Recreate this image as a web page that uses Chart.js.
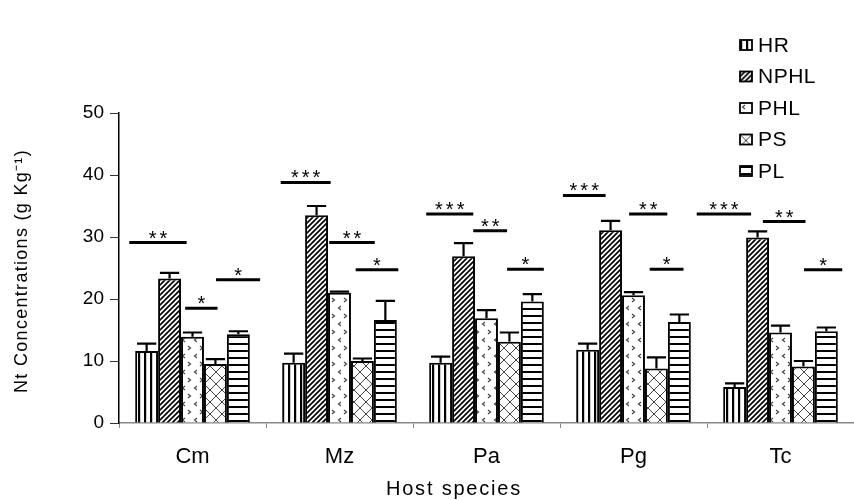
<!DOCTYPE html>
<html><head><meta charset="utf-8">
<script src="https://cdn.jsdelivr.net/npm/chart.js@4.4.1/dist/chart.umd.min.js"></script>
<style>html,body{margin:0;padding:0;background:#fff;}#wrap{width:854px;height:500px;}</style>
</head><body><div id="wrap"><canvas id="c" width="854" height="500"></canvas></div>
<script>
// ---- data ----
const categories = ['Cm', 'Mz', 'Pa', 'Pg', 'Tc'];
const seriesNames = ['HR', 'NPHL', 'PHL', 'PS', 'PL'];
const HR   = [11.6, 9.7, 9.7, 11.8, 5.8];
const NPHL = [23.3, 33.5, 26.9, 31.1, 29.9];
const PHL  = [13.9, 21.0, 16.9, 20.6, 14.6];
const PS   = [9.5, 10.0, 13.1, 8.8, 9.1];
const PL   = [14.3, 16.6, 19.6, 16.3, 14.8];
const HR_err   = [1.2, 1.5, 1.0, 1.0, 0.6];
const NPHL_err = [0.9, 1.5, 2.1, 1.5, 1.0];
const PHL_err  = [0.7, 0.2, 1.3, 0.5, 1.1];
const PS_err   = [0.8, 0.4, 1.5, 1.8, 0.9];
const PL_err   = [0.5, 3.1, 1.2, 1.2, 0.6];
const yTicks = [0, 10, 20, 30, 40, 50];
// significance brackets (x in category-index units, y in data units)
const sigLabels = ['**', '*', '*', '***', '**', '*', '***', '**', '*', '***', '**', '*', '***', '**', '*'];
const sigY    = [29.1, 18.5, 23.1, 38.8, 29.1, 24.7, 33.7, 31.0, 24.8, 36.7, 33.7, 24.8, 33.7, 32.5, 24.7];
const sigFrom = [-0.43, -0.05, 0.16, 0.60, 0.93, 1.11, 1.59, 1.91, 2.14, 2.52, 2.97, 3.11, 3.43, 3.88, 4.16];
const sigTo   = [-0.04, 0.17, 0.46, 0.94, 1.24, 1.40, 1.91, 2.14, 2.39, 2.81, 3.23, 3.34, 3.80, 4.17, 4.42];
const yTitle = 'Nt Concentrations (g Kg⁻¹)';
const xTitle = 'Host species';

// ---- patterns ----
function makePattern(kind) {
  const c = document.createElement('canvas');
  const g = c.getContext('2d');
  let w = 6, h = 6;
  if (kind === 'vert') { w = 6; h = 6; }
  if (kind === 'diag') { w = 5; h = 5; }
  if (kind === 'chev') { w = 12; h = 16; }
  if (kind === 'cross') { w = 12; h = 12; }
  if (kind === 'horiz') { w = 6; h = 7; }
  c.width = w; c.height = h;
  g.fillStyle = '#fff'; g.fillRect(0, 0, w, h);
  g.strokeStyle = '#000'; g.fillStyle = '#000';
  if (kind === 'vert') { g.fillRect(0, 0, 2.2, h); }
  if (kind === 'diag') {
    g.lineWidth = 1.7;
    g.beginPath();
    g.moveTo(-1, h + 1); g.lineTo(w + 1, -1);
    g.moveTo(-1, 1); g.lineTo(1, -1);
    g.moveTo(w - 1, h + 1); g.lineTo(w + 1, h - 1);
    g.stroke();
  }
  if (kind === 'chev') {
    g.strokeStyle = '#444'; g.lineWidth = 1.2;
    g.beginPath();
    g.moveTo(5, 2); g.lineTo(2.5, 4); g.lineTo(5, 6);
    g.moveTo(8, 10); g.lineTo(10.5, 12); g.lineTo(8, 14);
    g.stroke();
  }
  if (kind === 'cross') {
    g.strokeStyle = '#444'; g.lineWidth = 1;
    g.beginPath();
    g.moveTo(0, 0); g.lineTo(w, h);
    g.moveTo(w, 0); g.lineTo(0, h);
    g.stroke();
  }
  if (kind === 'horiz') { g.fillRect(0, 0, w, 2); }
  return g.createPattern(c, 'repeat');
}
const patterns = [makePattern('vert'), makePattern('diag'), makePattern('chev'), makePattern('cross'), makePattern('horiz')];
const values = [HR, NPHL, PHL, PS, PL];
const errs = [HR_err, NPHL_err, PHL_err, PS_err, PL_err];

const datasets = seriesNames.map((n, i) => ({
  label: n, data: values[i], err: errs[i],
  backgroundColor: patterns[i], borderColor: '#000', borderWidth: 2,
  categoryPercentage: 0.78, barPercentage: 1.0
}));

const FONT = "'Liberation Sans', Arial, sans-serif";

const extras = {
  id: 'extras',
  afterDatasetsDraw(chart) {
    const ctx = chart.ctx, y = chart.scales.y, x = chart.scales.x;
    ctx.save();
    // error bars
    ctx.strokeStyle = '#000'; ctx.lineWidth = 2.2;
    chart.data.datasets.forEach((ds, di) => {
      const meta = chart.getDatasetMeta(di);
      meta.data.forEach((bar, i) => {
        const top = y.getPixelForValue(ds.data[i] + ds.err[i]);
        const cap = bar.width * 0.42;
        ctx.beginPath();
        ctx.moveTo(bar.x, bar.y); ctx.lineTo(bar.x, top);
        ctx.moveTo(bar.x - cap, top); ctx.lineTo(bar.x + cap, top);
        ctx.stroke();
      });
    });
    // significance lines
    ctx.lineWidth = 3;
    ctx.fillStyle = '#000';
    ctx.font = '20px ' + FONT;
    ctx.textAlign = 'center'; ctx.textBaseline = 'alphabetic';
    sigLabels.forEach((lab, i) => {
      const x1 = x.getPixelForValue(sigFrom[i]), x2 = x.getPixelForValue(sigTo[i]);
      const yy = y.getPixelForValue(sigY[i]);
      ctx.beginPath(); ctx.moveTo(x1, yy); ctx.lineTo(x2, yy); ctx.stroke();
      ctx.letterSpacing = '3px';
      ctx.fillText(lab, (x1 + x2) / 2 + 1.5, yy + 2);
      ctx.letterSpacing = '0px';
    });
    ctx.restore();
  },
  afterDraw(chart) {
    const ctx = chart.ctx;
    ctx.save();
    // legend
    ctx.font = '21px ' + FONT;
    ctx.textAlign = 'left'; ctx.textBaseline = 'middle';
    seriesNames.forEach((n, i) => {
      const cy = 45 + i * 31.5;
      ctx.save();
      ctx.translate(740, cy - 5);
      ctx.fillStyle = patterns[i];
      ctx.fillRect(0, 0, 12, 10);
      ctx.strokeStyle = '#000'; ctx.lineWidth = 1.8;
      ctx.strokeRect(0, 0, 12, 10);
      ctx.restore();
      ctx.fillStyle = '#000';
      ctx.letterSpacing = '0.5px';
      ctx.fillText(n, 758, cy + 1);
    });
    // axis titles
    ctx.font = '20px ' + FONT;
    ctx.letterSpacing = '1.8px';
    ctx.textAlign = 'center'; ctx.textBaseline = 'middle';
    ctx.fillText(xTitle, 454, 489);
    ctx.translate(22, 271);
    ctx.rotate(-Math.PI / 2);
    ctx.font = '18px ' + FONT;
    ctx.letterSpacing = '1.3px';
    ctx.fillText(yTitle, 0, 0);
    ctx.restore();
  }
};

new Chart(document.getElementById('c'), {
  type: 'bar',
  data: { labels: categories, datasets },
  options: {
    responsive: false, animation: false, devicePixelRatio: 1,
    layout: { padding: { top: 113, right: 0, left: 0, bottom: 0 } },
    plugins: { legend: { display: false }, tooltip: { enabled: false } },
    scales: {
      x: {
        offset: true,
        grid: { display: true, drawOnChartArea: false, drawTicks: true, tickLength: 5, color: '#888', offset: true },
        border: { display: true, color: '#888', width: 1.5 },
        ticks: { font: { family: FONT, size: 22 }, color: '#000', padding: 16 },
        afterFit(s) { s.height = 77; }
      },
      y: {
        min: 0, max: 50,
        afterBuildTicks(s) { s.ticks = yTicks.map(v => ({ value: v })); },
        grid: { drawOnChartArea: false, tickLength: 9, color: '#333' },
        border: { color: '#000', width: 1.5 },
        ticks: { font: { family: FONT, size: 19 }, color: '#000', padding: 6 },
        afterFit(s) { s.width = 119; }
      }
    }
  },
  plugins: [extras]
});
</script></body></html>
